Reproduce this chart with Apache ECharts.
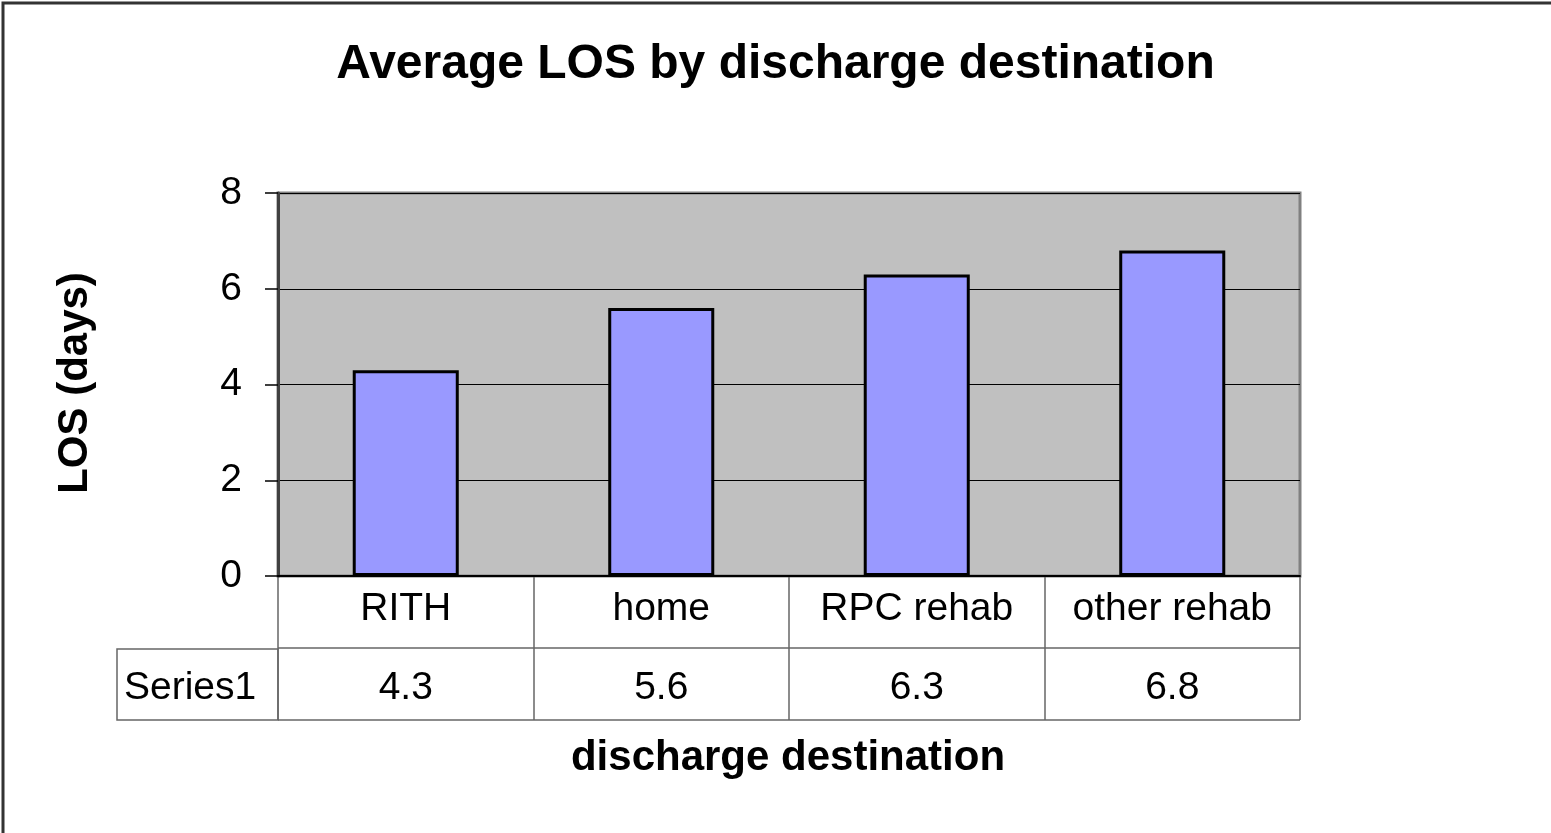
<!DOCTYPE html>
<html><head><meta charset="utf-8">
<script src="https://cdn.jsdelivr.net/npm/echarts@6/dist/echarts.min.js"></script>
<style>html,body{margin:0;padding:0;background:#fff}#c{width:1551px;height:833px}</style>
</head><body><div id="c"></div>
<script>
const categories = ['RITH', 'home', 'RPC rehab', 'other rehab'];
const values = [4.3, 5.6, 6.3, 6.8];
const seriesName = 'Series1';
const yTicks = { min: 0, max: 8, interval: 2 };
const titleText = 'Average LOS by discharge destination';
const xTitle = 'discharge destination';
const yTitle = 'LOS (days)';

const FONT = 'Liberation Sans, Arial, sans-serif';
const chart = echarts.init(document.getElementById('c'), null, { renderer: 'canvas' });
chart.setOption({
  animation: false,
  backgroundColor: '#fff',
  title: { text: titleText, left: 'center', top: 36, textStyle: { fontFamily: FONT, fontSize: 48, fontWeight: 'bold', color: '#000' } },
  grid: [
    { left: 278, top: 193, width: 1022, height: 383, show: true, backgroundColor: '#C0C0C0', borderColor: '#808080', borderWidth: 3 },
    { left: 278, top: 576, width: 1022, height: 144, show: false }
  ],
  xAxis: [
    { gridIndex: 0, type: 'category', data: categories, axisLine: { show: true, lineStyle: { color: '#000', width: 2 } }, axisTick: { show: false }, axisLabel: { show: false } },
    { gridIndex: 1, type: 'category', data: categories, position: 'top',
      axisLine: { show: false }, axisTick: { show: false, interval: 0 },
      axisLabel: { interval: 0, inside: true, margin: 33, verticalAlign: 'middle', fontFamily: FONT, fontSize: 39, color: '#000' },
      splitLine: { show: true, interval: 0, lineStyle: { color: '#666', width: 1.5 } } },
    { gridIndex: 1, type: 'category', data: values.map(v => v.toFixed(1)), position: 'bottom',
      axisLine: { show: false }, axisTick: { show: false },
      axisLabel: { interval: 0, inside: true, margin: 32, verticalAlign: 'middle', fontFamily: FONT, fontSize: 39, color: '#000' },
      splitLine: { show: false } }
  ],
  yAxis: [
    { gridIndex: 0, type: 'value', min: yTicks.min, max: yTicks.max, interval: yTicks.interval,
      axisLine: { show: true, lineStyle: { color: '#404040', width: 3 } },
      axisTick: { show: true, length: 13, lineStyle: { color: '#000', width: 1.5 } },
      axisLabel: { margin: 36, fontFamily: FONT, fontSize: 39, color: '#000' },
      splitLine: { show: true, lineStyle: { color: '#000', width: 1 } } },
    { gridIndex: 1, type: 'value', min: 0, max: 2, interval: 1, inverse: true,
      axisLine: { show: false }, axisTick: { show: false }, axisLabel: { show: false },
      splitLine: { show: true, lineStyle: { color: '#666', width: 1.5 } } }
  ],
  series: [{
    name: seriesName, type: 'bar', xAxisIndex: 0, yAxisIndex: 0, data: values, barWidth: '41.5%',
    itemStyle: { color: '#9999FF', borderColor: '#000', borderWidth: 3 }
  }],
  graphic: [
    { type: 'rect', shape: { x: 3, y: 3, width: 1600, height: 900 }, style: { fill: 'none', stroke: '#333', lineWidth: 3 }, silent: true },
    { type: 'rect', shape: { x: 117, y: 649, width: 161, height: 71 }, style: { fill: 'none', stroke: '#666', lineWidth: 1.5 } },
    { type: 'text', x: 124, y: 688, style: { text: seriesName, font: '39px ' + FONT, fill: '#000', verticalAlign: 'middle' } },
    { type: 'text', x: 788, y: 758, style: { text: xTitle, font: 'bold 42px ' + FONT, fill: '#000', align: 'center', verticalAlign: 'middle' } },
    { type: 'text', x: 75, y: 383, rotation: Math.PI / 2,
      style: { text: yTitle, font: 'bold 42px ' + FONT, fill: '#000', align: 'center', verticalAlign: 'middle' } }
  ]
});
</script></body></html>
